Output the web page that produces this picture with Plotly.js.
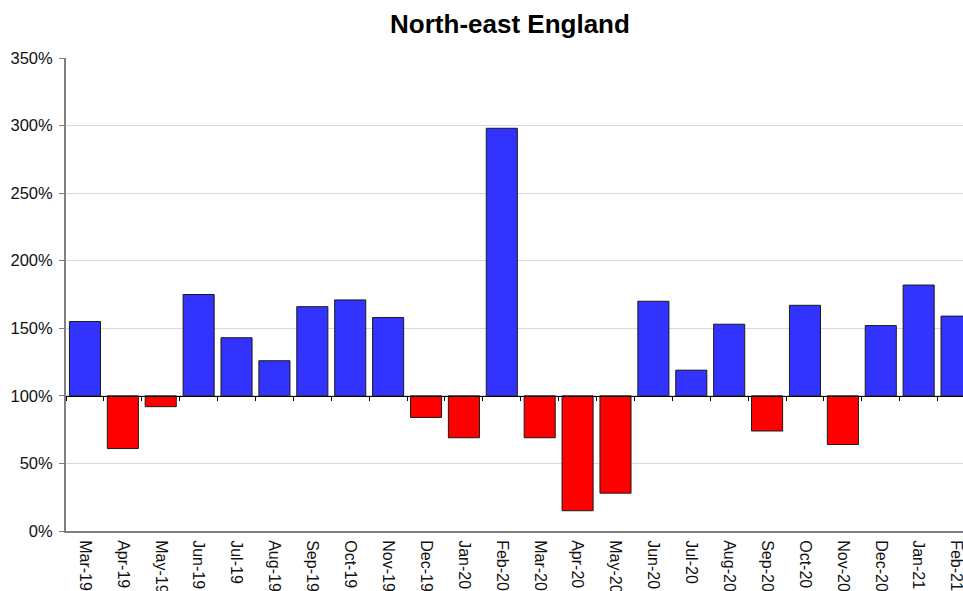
<!DOCTYPE html>
<html>
<head>
<meta charset="utf-8">
<script src="https://cdn.plot.ly/plotly-3.0.1.min.js"></script>
<style>html,body{margin:0;padding:0;overflow:hidden;background:#fff;}#chart{width:963px;height:591px;}</style>
</head>
<body>
<div id="chart"></div>
<script>
var months = ["Mar-19","Apr-19","May-19","Jun-19","Jul-19","Aug-19","Sep-19","Oct-19","Nov-19","Dec-19","Jan-20","Feb-20","Mar-20","Apr-20","May-20","Jun-20","Jul-20","Aug-20","Sep-20","Oct-20","Nov-20","Dec-20","Jan-21","Feb-21"];
var values = [155, 61, 92, 175, 143, 126, 166, 171, 158, 84, 69, 298, 69, 15, 28, 170, 119, 153, 74, 167, 64, 152, 182, 159];
var baseline = 100;
var yTickVals = [0, 50, 100, 150, 200, 250, 300, 350];
var yTickText = ["0%", "50%", "100%", "150%", "200%", "250%", "300%", "350%"];

var colors = values.map(function(v){ return v >= baseline ? "#3333FF" : "#FF0000"; });

var bars = {
  type: "bar",
  x: months,
  y: values.map(function(v){ return v - baseline; }),
  base: values.map(function(){ return baseline; }),
  marker: {color: colors, line: {color: "#1a1a1a", width: 1}},
  width: 0.82,
  hoverinfo: "skip",
  xaxis: "x",
  yaxis: "y"
};
var axisHelper = {
  type: "scatter",
  mode: "none",
  x: months,
  y: values.map(function(){ return baseline; }),
  hoverinfo: "skip",
  showlegend: false,
  xaxis: "x2",
  yaxis: "y"
};

var xr = [-0.5, 23.17];
var layout = {
  width: 963,
  height: 591,
  margin: {l: 66, r: 0, t: 58, b: 60},
  paper_bgcolor: "#ffffff",
  plot_bgcolor: "#ffffff",
  showlegend: false,
  title: {
    text: "<b>North-east England</b>",
    font: {family: "Liberation Sans, Arial, sans-serif", size: 26, color: "#000"},
    x: 510/963, xref: "container", xanchor: "center",
    y: 1 - 24/591, yref: "container", yanchor: "middle"
  },
  xaxis: {
    type: "category",
    range: xr,
    showgrid: false,
    zeroline: false,
    showline: true,
    linecolor: "#808080",
    linewidth: 2,
    ticks: "",
    tickangle: 90,
    ticklabelstandoff: 4,
    tickfont: {family: "Liberation Sans, Arial, sans-serif", size: 16, color: "#111"},
    fixedrange: true
  },
  xaxis2: {
    type: "category",
    overlaying: "x",
    anchor: "free",
    position: baseline / 350,
    range: xr,
    showgrid: false,
    zeroline: false,
    showline: true,
    linecolor: "#000",
    linewidth: 1,
    ticks: "outside",
    tickson: "boundaries",
    ticklen: 4,
    tickcolor: "#000",
    showticklabels: false
  },
  yaxis: {
    range: [0, 350],
    tickvals: yTickVals,
    ticktext: yTickText,
    showgrid: true,
    gridcolor: "#d9d9d9",
    gridwidth: 1,
    zeroline: false,
    showline: true,
    linecolor: "#808080",
    linewidth: 2,
    ticks: "outside",
    ticklen: 5,
    tickcolor: "#808080",
    ticklabelstandoff: 3,
    tickfont: {family: "Liberation Sans, Arial, sans-serif", size: 16.5, color: "#111"},
    fixedrange: true
  },
  bargap: 0.18
};

Plotly.newPlot("chart", [bars, axisHelper], layout, {displayModeBar: false, staticPlot: true});
</script>
</body>
</html>
